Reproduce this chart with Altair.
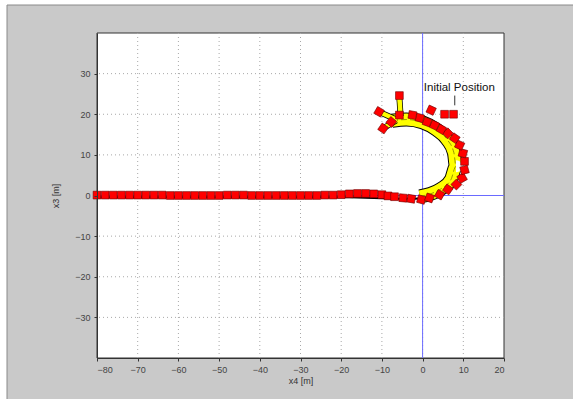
import altair as alt
import pandas as pd

# ---- data ----
# straight part of the path (squares along y ~ 0)
left_x = [-80, -78, -76, -74, -72, -70, -68, -66, -64, -62, -60, -58, -56, -54, -52, -50,
          -48, -46, -44, -42, -40, -38, -36, -34, -32, -30, -28, -26, -24, -22, -20, -18,
          -16, -14, -12, -10, -8.5]
left_y = [0.1, 0.1, 0.1, 0.1, 0.1, 0.1, 0.1, 0.1, 0.1, 0.0, 0.0, 0.0, 0.0, 0.0, 0.0, 0.0,
          0.1, 0.1, 0.1, 0.0, 0.0, 0.0, 0.0, 0.0, 0.0, 0.0, 0.0, 0.0, 0.1, 0.1, 0.2, 0.4,
          0.5, 0.5, 0.4, 0.2, -0.1]
# curved part of the path
curve_x = [-6.9, -4.8, -2.8, -0.3, 1.7, 4.2, 6.2, 8.3, 9.7, 10.3, 10.3, 9.9, 9.1, 7.9,
           6.2, 4.6, 2.9, 1.1, -0.7, -2.5, -5.7, -7.7, -9.7, -10.7, -5.7, 2.1, 5.4, 7.6]
curve_y = [-0.3, -0.6, -0.8, -1.0, -0.6, 0.2, 1.5, 2.7, 4.3, 6.3, 8.4, 10.4, 12.4, 14.1,
           15.3, 16.3, 17.3, 18.1, 19.1, 19.8, 19.8, 18.1, 16.5, 20.6, 24.6, 21.0, 20.0, 20.0]
curve_angle = [0, 5, 10, 15, 20, 30, 35, 45, 60, 75, 0, 15, 25, 35, 45, 30, 25, 20, 15, 10,
               0, 40, 35, 30, 0, 25, 0, 0]

# trailer bodies (yellow band, inside of the curve)
band_x = [-7.5, -4.0, 0.0, 3.4, 6.0, 7.7, 8.2, 7.0, 4.6, 1.9, -0.7]
band_y = [18.4, 18.7, 18.0, 16.2, 13.8, 10.5, 7.2, 4.0, 1.7, 0.4, -0.2]

# tractor bodies at the start (segments)
seg_x1 = [-5.7, -10.5, -9.7]
seg_y1 = [24.0, 20.5, 16.5]
seg_x2 = [-5.4, -6.2, -6.5]
seg_y2 = [19.5, 18.6, 18.5]

# trailer trace (black line under squares)
trace_x = [-80, -60, -40, -20, -12, -6, -2, 1, 3]
trace_y = [-0.4, -0.4, -0.4, -0.4, -0.6, -0.8, -0.8, -0.6, -0.3]

x_ticks = [-80, -70, -60, -50, -40, -30, -20, -10, 0, 10, 20]
y_ticks = [-30, -20, -10, 0, 10, 20, 30]

label_text = "Initial Position"
label_x, label_y = 0.3, 26.4
pointer_x, pointer_y1, pointer_y2 = 7.9, 24.6, 22.2

# ---- tables ----
squares = pd.DataFrame({
    "x": left_x + curve_x,
    "y": left_y + curve_y,
    "a": [0] * len(left_x) + curve_angle,
})
band = pd.DataFrame({"x": band_x, "y": band_y, "o": list(range(len(band_x)))})
segs = pd.DataFrame({"x": seg_x1, "y": seg_y1, "x2": seg_x2, "y2": seg_y2})
trace = pd.DataFrame({"x": trace_x, "y": trace_y, "o": list(range(len(trace_x)))})

xs = alt.Scale(domain=[-80, 20], nice=False, zero=False)
ys = alt.Scale(domain=[-40, 40], nice=False, zero=False)

ax_common = dict(format="d", grid=False, zindex=5, domainColor="#333", tickColor="#333",
                 tickSize=3, labelFont="Liberation Sans", labelFontSize=9, labelColor="#444",
                 labelPadding=4, titleFont="Liberation Sans", titleFontSize=9,
                 titleFontWeight="normal", titleColor="#333")
X = alt.X("x:Q", scale=xs, title="x4 [m]",
          axis=alt.Axis(values=x_ticks, titlePadding=2, **ax_common))
Y = alt.Y("y:Q", scale=ys, title="x3 [m]",
          axis=alt.Axis(values=y_ticks, titlePadding=14, **ax_common))

# figure panel (gray) and plot area (white)
panel = alt.Chart(pd.DataFrame({"k": [0]})).mark_rect(
    color="#c9c9c9", stroke="#8a8a8a", strokeWidth=1).encode(
    x=alt.value(-90), x2=alt.value(480), y=alt.value(-28), y2=alt.value(370))
plotbg = alt.Chart(pd.DataFrame({"k": [0]})).mark_rect(
    color="white", stroke="#333", strokeWidth=1).encode(
    x=alt.value(0), x2=alt.value(407), y=alt.value(0), y2=alt.value(325))

gridx = alt.Chart(pd.DataFrame({"x": x_ticks[1:-1]})).mark_rule(
    color="#a8a8a8", strokeDash=[1, 3], strokeWidth=1).encode(x=X)
gridy = alt.Chart(pd.DataFrame({"y": y_ticks})).mark_rule(
    color="#a8a8a8", strokeDash=[1, 3], strokeWidth=1).encode(y=Y)

base_blue_v = alt.Chart(pd.DataFrame({"x": [0]})).mark_rule(
    color="#6a6aff", strokeWidth=1).encode(x=X)
base_blue_h = alt.Chart(pd.DataFrame({"y": [0]})).mark_rule(
    color="#6a6aff", strokeWidth=1).encode(y=Y)

trace_line = alt.Chart(trace).mark_line(color="black", strokeWidth=2).encode(
    x=X, y=Y, order="o:Q")

band_outline = alt.Chart(band).mark_line(
    color="black", strokeWidth=14, interpolate="monotone").encode(x=X, y=Y, order="o:Q")
band_fill = alt.Chart(band).mark_line(
    color="#ffff00", strokeWidth=12, interpolate="monotone").encode(x=X, y=Y, order="o:Q")
band_mid = alt.Chart(band).mark_line(
    color="#6b6b00", strokeWidth=0.7, strokeDash=[6, 3], interpolate="monotone").encode(
    x=X, y=Y, order="o:Q")

seg_outline = alt.Chart(segs).mark_rule(color="black", strokeWidth=6).encode(
    x=X, y=Y, x2="x2:Q", y2="y2:Q")
seg_fill = alt.Chart(segs).mark_rule(color="#ffff00", strokeWidth=4.5).encode(
    x=X, y=Y, x2="x2:Q", y2="y2:Q")

sq = alt.Chart(squares).mark_point(
    shape="square", filled=True, size=60, color="#ff0000",
    stroke="#700000", strokeWidth=0.6, opacity=1).encode(
    x=X, y=Y, angle=alt.Angle("a:Q", scale=None))

txt = alt.Chart(pd.DataFrame({"x": [label_x], "y": [label_y], "t": [label_text]})).mark_text(
    align="left", baseline="middle", fontSize=11.5, fontWeight="normal",
    font="Liberation Sans", color="#111").encode(x=X, y=Y, text="t:N")

pointer = alt.Chart(pd.DataFrame({"x": [pointer_x], "y": [pointer_y1], "y2": [pointer_y2]})).mark_rule(
    color="#333", strokeWidth=1).encode(x=X, y=Y, y2="y2:Q")

chart = alt.layer(
    panel, plotbg, gridx, gridy,
    base_blue_v, base_blue_h, trace_line, band_outline, band_fill, band_mid,
    seg_outline, seg_fill, sq, pointer, txt
).properties(
    width=407, height=325,
    autosize=alt.AutoSizeParams(type="none"),
    padding={"left": 97, "top": 33, "right": 69, "bottom": 41},
    background="white",
).configure_view(
    stroke=None
)

chart.save("out.html", embed_options={"renderer": "svg", "actions": False})
